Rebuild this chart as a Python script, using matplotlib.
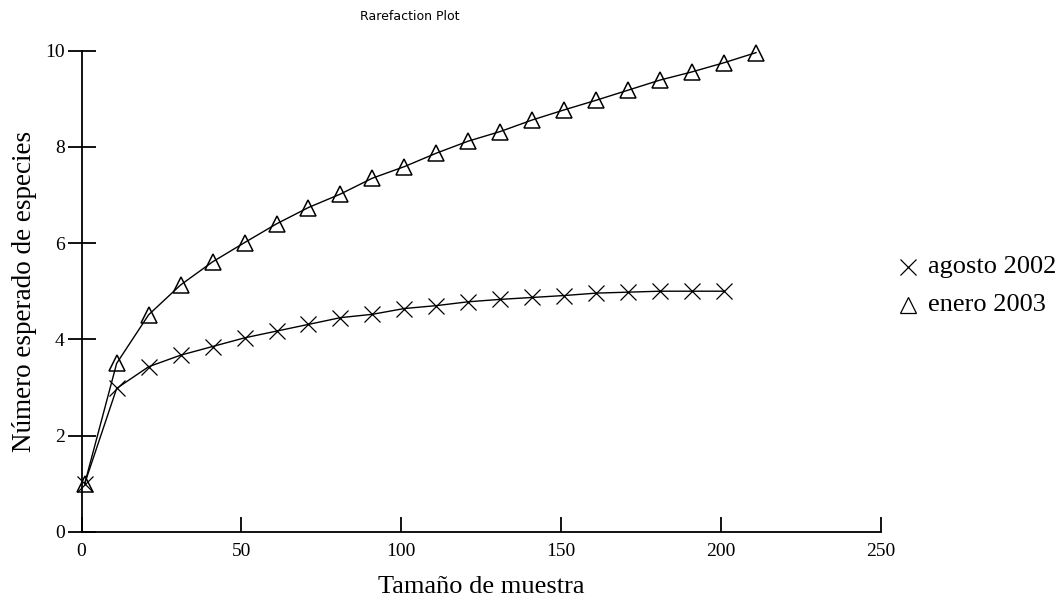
import matplotlib.pyplot as plt
from matplotlib.lines import Line2D

# Curvas de rarefacción
tam_agosto = [1, 11, 21, 31, 41, 51, 61, 71, 81, 91, 101, 111, 121, 131, 141, 151, 161, 171, 181, 191, 201]
esp_agosto = [1.0, 2.98, 3.43, 3.67, 3.85, 4.03, 4.17, 4.31, 4.45, 4.52, 4.64, 4.70, 4.78,
              4.83, 4.87, 4.91, 4.96, 4.98, 5.0, 5.0, 5.0]

tam_enero = [1, 11, 21, 31, 41, 51, 61, 71, 81, 91, 101, 111, 121, 131, 141, 151, 161, 171, 181, 191, 201, 211]
esp_enero = [1.0, 3.50, 4.51, 5.13, 5.61, 6.01, 6.40, 6.74, 7.02, 7.35, 7.59, 7.87, 8.12,
             8.32, 8.56, 8.77, 8.97, 9.18, 9.39, 9.56, 9.75, 9.96]

etiquetas = ['agosto 2002', 'enero 2003']

serif = 'Liberation Serif'
W, H = 1062, 604

fig = plt.figure(figsize=(W / 100, H / 100), dpi=100)
ax = fig.add_axes([81.5 / W, 1 - 531.7 / H, 799.2 / W, 481 / H])

ax.plot(tam_agosto, esp_agosto, color='black', lw=1.0, marker='x',
        markersize=11, markeredgewidth=0.9, clip_on=False)
ax.plot(tam_enero, esp_enero, color='black', lw=1.0, marker='^',
        markersize=11.5, markerfacecolor='none', markeredgewidth=1.1, clip_on=False)

ax.set_xlim(0, 250)
ax.set_ylim(0, 10)
ax.set_xticks([0, 50, 100, 150, 200, 250])
ax.set_yticks([0, 2, 4, 6, 8, 10])

for s in ['top', 'right']:
    ax.spines[s].set_visible(False)
for s in ['left', 'bottom']:
    ax.spines[s].set_linewidth(1.3)

ax.tick_params(axis='x', direction='in', length=11, width=1.3, pad=8, labelsize=14)
ax.tick_params(axis='y', direction='inout', length=20, width=1.3, pad=2, labelsize=14)
for lab in ax.get_xticklabels() + ax.get_yticklabels():
    lab.set_family(serif)

ax.set_xlabel('Tamaño de muestra', fontsize=19, family=serif, labelpad=12)
ax.set_ylabel('Número esperado de especies', fontsize=19.5, family=serif, labelpad=6)

fig.text(410 / W, 1 - 16 / H, 'Rarefaction Plot', fontsize=9, family='DejaVu Sans',
         ha='center', va='center')

# leyenda a la derecha del gráfico
for i, (lab, mk) in enumerate(zip(etiquetas, ['x', '^'])):
    yc = 1 - (267 + 38 * i) / H
    fig.add_artist(Line2D([908 / W], [yc], transform=fig.transFigure, color='black',
                          ls='none', marker=mk, markersize=11, markerfacecolor='none',
                          markeredgewidth=0.9))
    fig.text(928 / W, yc, lab, fontsize=19, family=serif, ha='left', va='center')

fig.savefig('out.png', dpi=100, facecolor='white')
